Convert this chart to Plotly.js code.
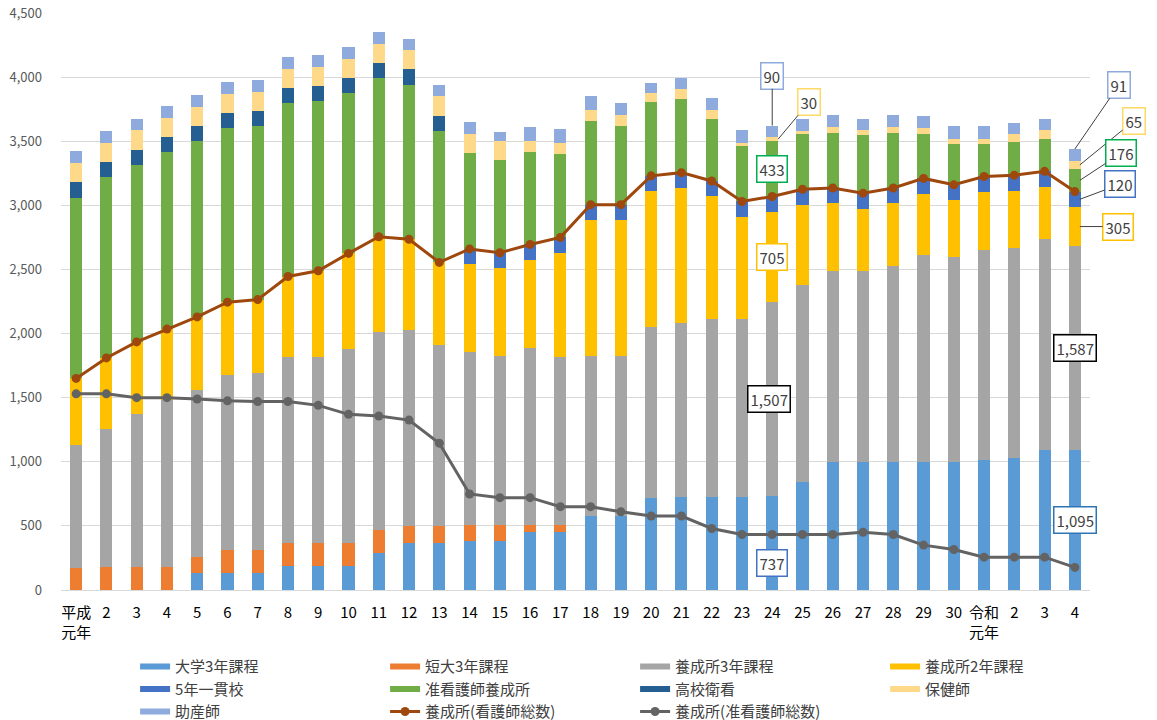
<!DOCTYPE html>
<html>
<head>
<meta charset="utf-8">
<script src="https://cdn.plot.ly/plotly-3.0.1.min.js"></script>
<style>
html,body{margin:0;padding:0;background:#ffffff;}
#chart{width:1157px;height:720px;}
</style>
</head>
<body>
<div id="chart"></div>
<script>
// ---- categories (年度) ----
const categories = ['H1','H2','H3','H4','H5','H6','H7','H8','H9','H10','H11','H12','H13','H14','H15','H16','H17','H18','H19','H20','H21','H22','H23','H24','H25','H26','H27','H28','H29','H30','R1','R2','R3','R4'];
const tickLabels = ['平成<br>元年','2','3','4','5','6','7','8','9','10','11','12','13','14','15','16','17','18','19','20','21','22','23','24','25','26','27','28','29','30','令和<br>元年','2','3','4'];

// ---- stacked bar series ----
const daigaku3  = [0,0,0,0,130,130,130,190,190,190,290,370,370,380,380,450,450,580,580,720,725,725,725,737,840,995,995,995,995,995,1015,1030,1095,1095];
const tandai3   = [170,180,180,180,125,180,180,180,180,180,180,130,130,125,125,55,55,0,0,0,0,0,0,0,0,0,0,0,0,0,0,0,0,0];
const yoseijo3  = [960,1075,1195,1300,1305,1365,1380,1450,1450,1510,1545,1525,1410,1355,1320,1380,1315,1245,1245,1330,1355,1390,1390,1507,1540,1490,1490,1530,1615,1600,1640,1640,1640,1587];
const yoseijo2  = [520,555,560,555,570,570,575,625,670,745,740,710,645,680,685,690,810,1060,1060,1060,1055,955,795,705,625,530,490,490,480,445,450,445,410,305];
const ikkan5    = [0,0,0,0,0,0,0,0,0,0,0,0,0,120,120,120,120,120,120,120,120,120,120,120,120,120,120,120,120,120,120,120,120,120];
const junkango  = [1410,1410,1380,1380,1370,1355,1350,1350,1320,1250,1237,1205,1025,749,720,720,650,650,610,577,577,480,433,433,433,433,450,433,350,316,256,256,256,176];
const kokoeikan = [120,120,120,120,120,120,120,120,120,120,120,120,120,0,0,0,0,0,0,0,0,0,0,0,0,0,0,0,0,0,0,0,0,0];
const hokenshi  = [150,150,150,150,150,150,150,150,150,150,150,150,150,150,150,85,90,85,90,70,75,70,25,30,25,45,40,45,45,40,40,65,65,65];
const josanshi  = [90,90,90,90,90,90,90,90,90,90,90,90,90,90,75,110,105,110,95,80,90,100,100,90,90,90,90,90,90,100,100,90,90,91];

// ---- line series ----
const kangoshiTotal    = [1650,1810,1935,2035,2130,2245,2265,2445,2490,2625,2755,2735,2555,2660,2630,2695,2750,3005,3005,3230,3255,3190,3030,3069,3125,3135,3095,3135,3210,3160,3225,3235,3265,3107];
const junkangoshiTotal = [1530,1530,1500,1500,1490,1475,1470,1470,1440,1370,1357,1325,1145,749,720,720,650,650,610,577,577,480,433,433,433,433,450,433,350,316,256,256,256,176];

const barNames  = ['大学3年課程','短大3年課程','養成所3年課程','養成所2年課程','5年一貫校','准看護師養成所','高校衛看','保健師','助産師'];
const barData   = [daigaku3, tandai3, yoseijo3, yoseijo2, ikkan5, junkango, kokoeikan, hokenshi, josanshi];
const barColors = ['#5B9BD5','#ED7D31','#A5A5A5','#FFC000','#4472C4','#70AD47','#255E91','#FFD98A','#8FAADC'];
const lineNames  = ['養成所(看護師総数)','養成所(准看護師総数)'];
const lineColors = ['#9E480E','#636363'];

const FONT = "'Noto Sans CJK JP','Noto Sans',sans-serif";

const traces = [];
barData.forEach((d, k) => {
  traces.push({type:'bar', x:categories, y:d, name:barNames[k], marker:{color:barColors[k]}, showlegend:false, hoverinfo:'x+y+name'});
});
// legend swatches (Excel-like wide bars)
barData.forEach((d, k) => {
  traces.push({type:'scatter', mode:'lines', x:[null], y:[null], name:barNames[k], line:{color:barColors[k], width:6}, hoverinfo:'skip'});
});
[kangoshiTotal, junkangoshiTotal].forEach((d, k) => {
  traces.push({type:'scatter', mode:'lines+markers', x:categories, y:d, name:lineNames[k],
    line:{color:lineColors[k], width:3}, marker:{color:lineColors[k], size:9}});
});

// ---- data labels ----
function segMid(s, i){ let b=0; for(let k=0;k<s;k++) b+=barData[k][i]; return b + barData[s][i]/2; }
function segTop(s, i){ let b=0; for(let k=0;k<=s;k++) b+=barData[k][i]; return b; }
const fmt = v => v.toLocaleString('en-US');
const i24 = categories.indexOf('H24');
const iR4 = categories.indexOf('R4');

function lab(s, i, border, opt){
  return Object.assign({
    x: categories[i], y: segMid(s, i), xref:'x', yref:'y',
    text: fmt(barData[s][i]), showarrow:false, xanchor:'center', yanchor:'middle',
    font:{family:FONT, size:15, color:'#404040'}, bgcolor:'#ffffff',
    bordercolor:border, borderwidth:1.5, borderpad:2,
    arrowhead:0, arrowwidth:1, arrowcolor:'#404040', standoff:0
  }, opt || {});
}
const annotations = [
  lab(8, i24, '#8FAADC', {y: segTop(8, i24), showarrow:true, ax:0, ay:-50}),
  lab(7, i24, '#FFD966', {showarrow:true, xshift:6, ax:31, ay:-37}),
  lab(5, i24, '#00B050'),
  lab(3, i24, '#FFC000'),
  lab(2, i24, '#000000', {xshift:-3}),
  lab(0, i24, '#4472C4', {yshift:-20}),
  lab(8, iR4, '#8FAADC', {y: segTop(8, iR4), showarrow:true, ax:44, ay:-64}),
  lab(7, iR4, '#FFD966', {showarrow:true, xshift:5, ax:54, ay:-44}),
  lab(5, iR4, '#00B050', {showarrow:true, xshift:5, ax:41, ay:-27}),
  lab(4, iR4, '#4472C4', {showarrow:true, xshift:5, ax:40, ay:-15}),
  lab(3, iR4, '#FFC000', {showarrow:true, xshift:5, ax:38, ay:0}),
  lab(2, iR4, '#000000'),
  lab(0, iR4, '#2E75B6')
];

const layout = {
  width:1157, height:720,
  margin:{l:61, r:67, t:13, b:130, pad:0, autoexpand:false},
  paper_bgcolor:'#ffffff', plot_bgcolor:'#ffffff',
  font:{family:FONT, color:'#404040'},
  barmode:'stack', bargap:0.6,
  showlegend:true,
  xaxis:{type:'category', range:[-0.5, categories.length - 0.5], autorange:false,
    tickvals:categories, ticktext:tickLabels, tickangle:0, automargin:false,
    tickfont:{family:FONT, size:15, color:'#000000'}, showline:true, linecolor:'#D9D9D9', linewidth:1,
    showgrid:false, ticks:'', ticklabelstandoff:9, fixedrange:true},
  yaxis:{range:[0,4500], autorange:false, dtick:500, tickformat:',d', showgrid:true, gridcolor:'#D9D9D9', gridwidth:1, automargin:false,
    zeroline:false, showline:false, ticks:'', tickfont:{family:FONT, size:13, color:'#595959'},
    ticklabelstandoff:18, fixedrange:true},
  legend:{orientation:'h', x:0.072, xanchor:'left', y:-0.1045, yanchor:'top', entrywidth:205, entrywidthmode:'pixels',
    traceorder:'normal', font:{family:FONT, size:15, color:'#404040'}, bgcolor:'rgba(0,0,0,0)', itemclick:false},
  annotations: annotations
};

Plotly.newPlot('chart', traces, layout, {displayModeBar:false, staticPlot:true});
</script>
</body>
</html>
